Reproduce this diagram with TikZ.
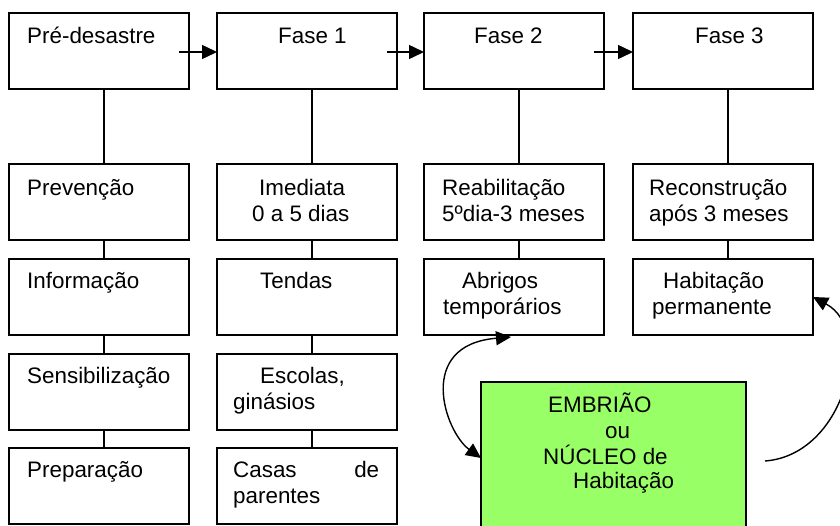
\documentclass[tikz,border=0pt]{standalone}
\usepackage{fontspec}
\setmainfont{Liberation Sans}
\usetikzlibrary{arrows.meta}
\definecolor{embryo}{RGB}{153,255,102}
\begin{document}
\begin{tikzpicture}[x=1pt,y=-1pt,
  box/.style={draw=black, line width=1.5pt, minimum width=180pt, minimum height=76pt, anchor=north west, inner sep=0pt, outer sep=0pt},
  lbl/.style={anchor=base west, inner sep=0pt, font=\fontsize{22.4pt}{26pt}\selectfont},
  link/.style={line width=1.5pt},
  tip/.tip={Triangle[length=15pt,width=14pt]},
  arr/.style={line width=1.5pt, -tip},
  darr/.style={line width=1.4pt, tip-tip}]
\useasboundingbox (0,0) rectangle (840,525);
\clip (0,0) rectangle (840,525);

% row 1
\node[box] (pre) at (9,13) {};
\node[box] (f1) at (217,13) {};
\node[box] (f2) at (424,13) {};
\node[box] (f3) at (633,13) {};
% row 2
\node[box] (prev) at (9,164) {};
\node[box] (imed) at (217,164) {};
\node[box] (reab) at (424,164) {};
\node[box] (reco) at (633,164) {};
% row 3
\node[box] (info) at (9,259) {};
\node[box] (tend) at (217,259) {};
\node[box] (abr) at (424,259) {};
\node[box] (hab) at (633,259) {};
% row 4
\node[box] (sens) at (9,354) {};
\node[box] (esc) at (217,354) {};
% row 5
\node[box] (prep) at (9,448) {};
\node[box] (casas) at (217,448) {};
% green box
\node[box, fill=embryo, minimum width=265pt, minimum height=150pt] (emb) at (481,382) {};

% texts
\node[lbl] (tpre) at (27,43) {Pré-desastre};
\node[lbl] (tf1) at (278,43) {Fase 1};
\node[lbl] (tf2) at (474,43) {Fase 2};
\node[lbl] (tf3) at (695,43) {Fase 3};
\node[lbl] (tprev) at (27,195) {Prevenção};
\node[lbl] (timed1) at (259,195) {Imediata};
\node[lbl] (timed2) at (252,221) {0 a 5 dias};
\node[lbl] (treab1) at (442,195) {Reabilitação};
\node[lbl] (treab2) at (442,221) {5ºdia-3 meses};
\node[lbl] (treco1) at (649,195) {Reconstrução};
\node[lbl] (treco2) at (649,221) {após 3 meses};
\node[lbl] (tinfo) at (27,288) {Informação};
\node[lbl] (ttend) at (260,288) {Tendas};
\node[lbl] (tabr1) at (462,288) {Abrigos};
\node[lbl] (tabr2) at (443,314) {temporários};
\node[lbl] (thab1) at (663,288) {Habitação};
\node[lbl] (thab2) at (652,314) {permanente};
\node[lbl] (tsens) at (27,383) {Sensibilização};
\node[lbl] (tesc1) at (260,383) {Escolas,};
\node[lbl] (tesc2) at (233,409) {ginásios};
\node[lbl] (tprep) at (27,477) {Preparação};
\node[lbl] (tcas1) at (233,477) {\makebox[146pt][s]{Casas de}};
\node[lbl] (tcas2) at (233,503) {parentes};
\node[lbl] (temb1) at (548,412) {EMBRIÃO};
\node[lbl] (temb2) at (605,438) {ou};
\node[lbl] (temb3) at (543,464) {NÚCLEO de};
\node[lbl] (temb4) at (573,488) {Habitação};

% horizontal arrows
\draw[arr] ([xshift=-10pt,yshift=-1pt]pre.east) -- ([yshift=-1pt]f1.west);
\draw[arr] ([xshift=-10pt,yshift=-1pt]f1.east) -- ([yshift=-1pt]f2.west);
\draw[arr] ([xshift=-10pt,yshift=-1pt]f2.east) -- ([yshift=-1pt]f3.west);

% vertical links
\draw[link] ([xshift=5pt]pre.south) -- ([xshift=5pt]prev.north);
\draw[link] ([xshift=5pt]prev.south) -- ([xshift=5pt]info.north);
\draw[link] ([xshift=5pt]info.south) -- ([xshift=5pt]sens.north);
\draw[link] ([xshift=5pt]sens.south) -- ([xshift=5pt]prep.north);
\draw[link] ([xshift=5pt]f1.south) -- ([xshift=5pt]imed.north);
\draw[link] ([xshift=5pt]imed.south) -- ([xshift=5pt]tend.north);
\draw[link] ([xshift=5pt]tend.south) -- ([xshift=5pt]esc.north);
\draw[link] ([xshift=5pt]esc.south) -- ([xshift=5pt]casas.north);
\draw[link] ([xshift=5pt]f2.south) -- ([xshift=5pt]reab.north);
\draw[link] ([xshift=5pt]reab.south) -- ([xshift=5pt]abr.north);
\draw[link] ([xshift=5pt]f3.south) -- ([xshift=5pt]reco.north);
\draw[link] ([xshift=5pt]reco.south) -- ([xshift=5pt]hab.north);

% curved arrows
\draw[darr] ([yshift=-1pt]emb.west) .. controls (445,432) and (415,345) .. ([xshift=-3pt,yshift=-2pt]abr.south);
\coordinate (cstart) at ([xshift=19pt,yshift=-4pt]emb.east);
\draw[arr, line width=1.4pt] (cstart) .. controls (845,455) and (875,330) .. (hab.east);
\end{tikzpicture}
\end{document}
